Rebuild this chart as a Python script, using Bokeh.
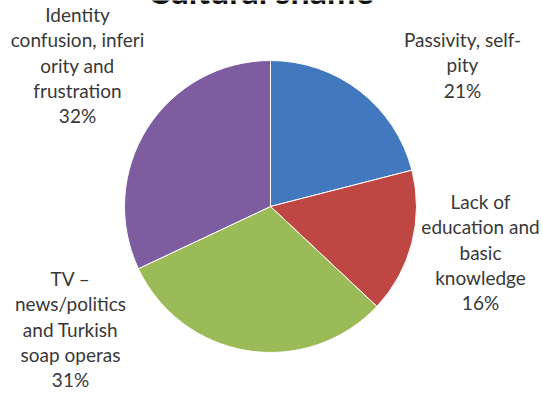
import math
from bokeh.plotting import figure
from bokeh.models import Range1d, ColumnDataSource
from bokeh.core.properties import value
from bokeh.embed import file_html
from bokeh.resources import INLINE

# ---- data ----
title = "Cultural shame"
categories = [
    "Passivity, self-pity",
    "Lack of education and basic knowledge",
    "TV – news/politics and Turkish soap operas",
    "Identity confusion, inferiority and frustration",
]
shares = [21, 16, 31, 32]
colors = ["#4279BE", "#BE4743", "#9BBB59", "#7D5DA0"]
# label text as wrapped in the chart
label_lines = [
    ["Passivity, self-", "pity"],
    ["Lack of", "education and", "basic", "knowledge"],
    ["TV –", "news/politics", "and Turkish", "soap operas"],
    ["Identity", "confusion, inferi", "ority and", "frustration"],
]

# ---- layout (pixels) ----
W, H = 542, 394
cx, cy, r = 270, 206, 146
label_pos = [(462, 46), (480, 208), (70, 285), (77, 21)]  # center x, first baseline (from top)
line_h = 25.3
shift = 7  # compensate renderer baseline offset

p = figure(width=W, height=H, output_backend="svg", toolbar_location=None,
           x_range=Range1d(0, W), y_range=Range1d(0, H), min_border=0)
p.axis.visible = False
p.grid.visible = False
p.outline_line_color = None
p.background_fill_color = "white"
p.border_fill_color = "white"

total = sum(shares)
starts, ends = [], []
cum = 0.0
for s in shares:
    starts.append(math.pi / 2 - 2 * math.pi * cum / total)
    cum += s
    ends.append(math.pi / 2 - 2 * math.pi * cum / total)

src = ColumnDataSource(dict(start=starts, end=ends, color=colors))
p.wedge(x=cx, y=H - cy, radius=r, start_angle="start", end_angle="end",
        direction="clock", fill_color="color", line_color="white",
        line_width=1, source=src)

xs, ys, texts = [], [], []
for lines, share, (lx, ly) in zip(label_lines, shares, label_pos):
    allines = lines + [f"{share}%"]
    for i, t in enumerate(allines):
        xs.append(lx)
        ys.append(H - (ly + i * line_h) + shift)
        texts.append(t)

p.text(x=xs, y=ys, text=texts, text_font=value("Lato"), text_font_size="19px",
       text_align="center", text_baseline="alphabetic", text_color="#383838")

p.text(x=[260], y=[H + 10], text=[title], text_font=value("Lato"),
       text_font_size="34px", text_font_style="bold", text_align="center",
       text_baseline="alphabetic", text_color="#111111")

open("out.html", "w").write(file_html(p, INLINE))
